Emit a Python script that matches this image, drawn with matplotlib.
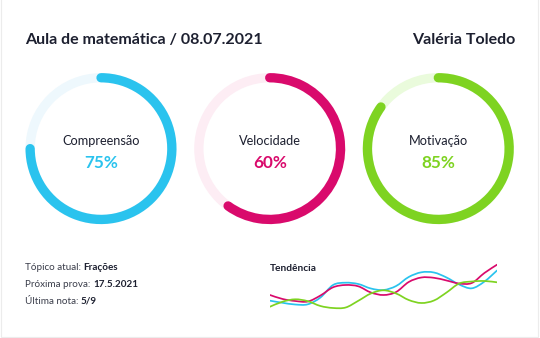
import matplotlib
matplotlib.use("Agg")
import matplotlib.pyplot as plt
from matplotlib.patches import Arc, Circle, Rectangle, PathPatch
from matplotlib.path import Path
import numpy as np

plt.rcParams['font.family'] = ['Lato', 'DejaVu Sans']

# ---- data ----
title = "Aula de matemática / 08.07.2021"
student = "Valéria Toledo"
metrics = ["Compreensão", "Velocidade", "Motivação"]
percents = [75, 60, 85]
colors = ["#2ac3ee", "#d90a6c", "#7ed321"]
track_colors = ["#eef8fd", "#fdedf4", "#eafbdc"]

info_labels = ["Tópico atual: ", "Próxima prova: ", "Última nota: "]
info_values = ["Frações", "17.5.2021", "5/9"]

trend_title = "Tendência"
trend_cyan = [14.3, 12.2, 10.5, 10.7, 17.5, 30.0, 32.3, 31.0, 26.5, 25.0, 29.0,
              38.0, 42.7, 42.5, 37.5, 30.5, 26.7, 33.4, 44.5]
trend_magenta = [20.0, 16.0, 14.0, 13.5, 19.5, 27.7, 30.0, 28.7, 22.5, 20.0, 23.0,
                 33.0, 37.5, 37.2, 34.5, 31.5, 32.0, 42.0, 50.3]
trend_green = [8.3, 13.3, 15.7, 13.8, 9.0, 7.0, 7.5, 14.2, 21.5, 24.7, 21.5,
               15.0, 12.0, 14.5, 22.5, 31.5, 33.5, 34.0, 32.7]

W, H = 540, 338
DARK = "#1d2030"

fig = plt.figure(figsize=(W / 100, H / 100), dpi=100)
fig.patch.set_facecolor("white")
ax = fig.add_axes([0, 0, 1, 1])
ax.set_xlim(0, W)
ax.set_ylim(H, 0)
ax.axis("off")

# card border
ax.add_patch(Rectangle((0.5, -5), 537.5, 341.5, fill=False, edgecolor="#ececec", lw=0.8))

# header
ax.text(25, 40, title, fontsize=11.5, fontweight="bold", color=DARK, va="center", ha="left")
ax.text(515, 40, student, fontsize=11.5, fontweight="bold", color=DARK, va="center", ha="right")

# rings
centers_x = [101, 269.7, 438.3]
cy = 148.6
r_outer = 75.5
ring_w = 9.3
r_mid = r_outer - ring_w / 2
lw_pt = ring_w * 0.72
for cx, name, pct, col, tcol in zip(centers_x, metrics, percents, colors, track_colors):
    ax.add_patch(Circle((cx, cy), r_mid, fill=False, edgecolor=tcol, lw=lw_pt))
    arc = Arc((cx, cy), 2 * r_mid, 2 * r_mid, theta1=270, theta2=270 + pct * 3.6,
              edgecolor=col, lw=lw_pt)
    arc.set_capstyle("round")
    ax.add_patch(arc)
    ax.text(cx, 141, name, fontsize=9.2, color=DARK, ha="center", va="center")
    ax.text(cx, 163.5, f"{pct}%", fontsize=12.3, fontweight="bold", color=col,
            ha="center", va="center")

# info lines
fig.canvas.draw()
renderer = fig.canvas.get_renderer()
ys = [267.3, 284.3, 301.5]
for y, lab, val in zip(ys, info_labels, info_values):
    t = ax.text(25, y, lab, fontsize=7.1, color="#3a3d4a", ha="left", va="center")
    bb = t.get_window_extent(renderer=renderer)
    x_end = ax.transData.inverted().transform((bb.x1, bb.y0))[0]
    ax.text(x_end, y, val, fontsize=7.1, fontweight="bold", color=DARK,
            ha="left", va="center")

ax.text(270, 268.3, trend_title, fontsize=7.3, fontweight="bold", color=DARK,
        ha="left", va="center")

# trend chart
tax = fig.add_axes([270 / W, (H - 315) / H, 227 / W, 55 / H])
tax.set_xlim(0, len(trend_cyan) - 1)
tax.set_ylim(0, 55)
tax.axis("off")
tax.patch.set_alpha(0)


def smooth_path(vals):
    x = np.arange(len(vals), dtype=float)
    y = np.asarray(vals, dtype=float)
    P = np.column_stack([x, y])
    Pe = np.vstack([P[0], P, P[-1]])
    verts = [P[0]]
    codes = [Path.MOVETO]
    for i in range(len(P) - 1):
        p0, p1, p2, p3 = Pe[i], Pe[i + 1], Pe[i + 2], Pe[i + 3]
        c1 = p1 + (p2 - p0) / 6.0
        c2 = p2 - (p3 - p1) / 6.0
        verts += [c1, c2, p2]
        codes += [Path.CURVE4] * 3
    return Path(verts, codes)


for series, col in zip([trend_cyan, trend_magenta, trend_green], colors):
    tax.add_patch(PathPatch(smooth_path(series), fill=False, edgecolor=col, lw=1.25,
                            capstyle="round", joinstyle="round"))

fig.savefig("out.png", dpi=100, facecolor="white")
